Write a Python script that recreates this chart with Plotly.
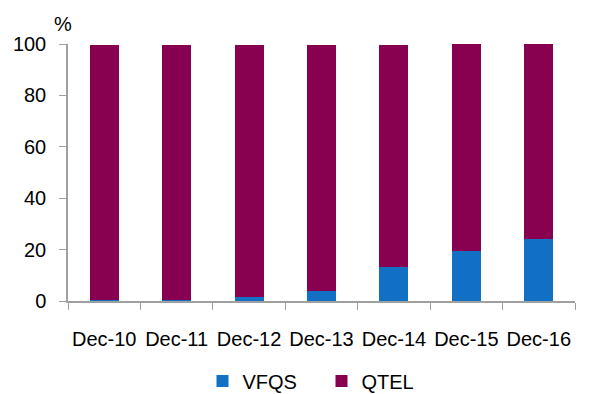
import plotly.graph_objects as go

categories = ["Dec-10", "Dec-11", "Dec-12", "Dec-13", "Dec-14", "Dec-15", "Dec-16"]
vfqs = [0.3, 0.3, 1.6, 3.9, 13.2, 19.5, 24.1]
qtel = [99.4, 99.4, 98.1, 95.8, 86.5, 80.5, 75.9]

fig = go.Figure()
fig.add_bar(x=categories, y=vfqs, name="VFQS", marker_color="#1270C4", marker_line_width=0)
fig.add_bar(x=categories, y=qtel, name="QTEL", marker_color="#880050", marker_line_width=0)

font = dict(family="Liberation Sans, Arial, sans-serif", size=20, color="#000000")
fig.update_layout(
    barmode="stack",
    bargap=0.6,
    width=602, height=394,
    margin=dict(l=68, r=27, t=44, b=93, autoexpand=False),
    paper_bgcolor="white", plot_bgcolor="white",
    font=font,
    showlegend=True,
    legend=dict(orientation="h", x=0.50, xanchor="center", y=-0.311, yanchor="middle",
                font=font, itemwidth=30, traceorder="normal",
                entrywidth=74, entrywidthmode="pixels"),
    annotations=[dict(text="%", x=0, y=1.0, xref="paper", yref="paper", showarrow=False,
                      xanchor="center", yanchor="middle", xshift=-5, yshift=20,
                      font=font)],
)
fig.update_xaxes(showline=True, linecolor="#A0A0A0", linewidth=1.5, ticks="outside",
                 tickcolor="#A0A0A0", ticklen=7, tickson="boundaries", showgrid=False,
                 tickfont=font, ticklabelstandoff=19, automargin=False, tickangle=0)
fig.update_yaxes(range=[0, 100], dtick=20, showline=True, linecolor="#A0A0A0", linewidth=1.5,
                 ticks="outside", tickcolor="#A0A0A0", ticklen=7, showgrid=False,
                 zeroline=False, tickfont=font, ticklabelstandoff=9, automargin=False)
fig.write_html("out.html")
